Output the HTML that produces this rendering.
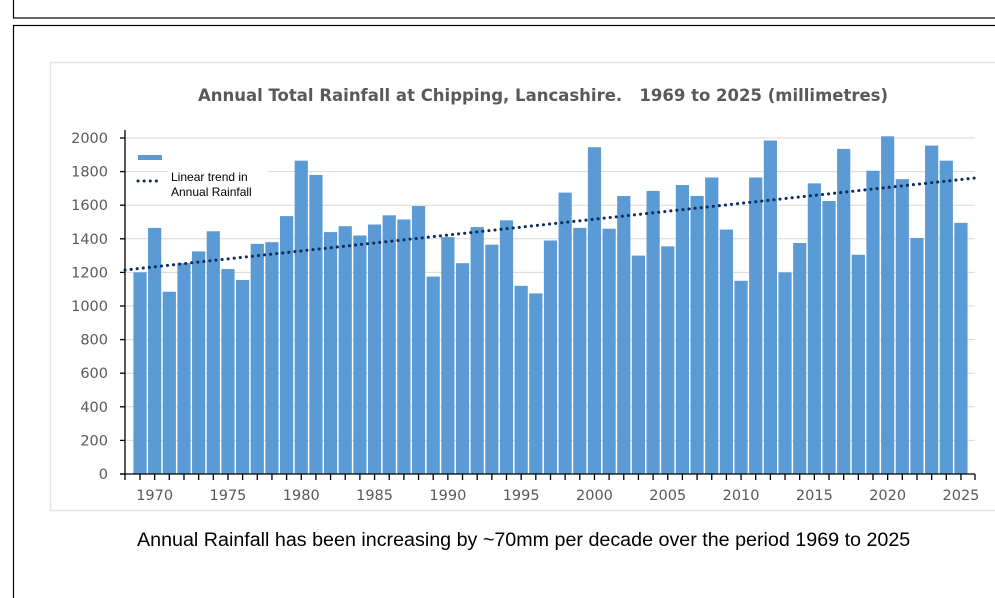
<!DOCTYPE html>
<html><head><style>
body{margin:0;width:995px;height:598px;background:#fff;overflow:hidden;position:relative;font-family:"Liberation Sans",sans-serif}
</style></head><body>
<svg width="995" height="598" style="position:absolute;left:0;top:0">
<rect x="13.5" y="-5" width="1000" height="23" fill="none" stroke="#000" stroke-width="1.2"/>
<rect x="13.5" y="25.5" width="1000" height="600" fill="none" stroke="#000" stroke-width="1.2"/>
<rect x="50.5" y="62.5" width="1000" height="448" fill="#fff" stroke="#e4e4e4" stroke-width="1.5"/>
<text x="543" y="101" text-anchor="middle" font-family="DejaVu Sans,sans-serif" font-size="16.5" font-weight="bold" fill="#595959" style="white-space:pre" xml:space="preserve">Annual Total Rainfall at Chipping, Lancashire.   1969 to 2025 (millimetres)</text>
<g id="grid" stroke="#d9d9d9" stroke-width="1"></g>
<g id="ylab" font-family="DejaVu Sans,sans-serif" font-size="14.5" fill="#595959" text-anchor="end"></g>
<g id="bars" fill="#5b9bd5"></g>
<g id="axes" stroke="#000" stroke-width="1.3"></g>
<g id="xlab" font-family="DejaVu Sans,sans-serif" font-size="14.5" fill="#595959" text-anchor="middle"></g>
<line x1="125" y1="270" x2="975" y2="178" stroke="#0e2a5a" stroke-width="3" stroke-dasharray="0.1 6" stroke-linecap="round"/>
<rect x="138" y="155" width="24" height="5" fill="#5b9bd5"/>
<line x1="138" y1="181" x2="160" y2="181" stroke="#0e2a5a" stroke-width="3" stroke-dasharray="0.1 6" stroke-linecap="round"/>
<rect x="168" y="168" width="100" height="30" fill="#fff"/>
<text x="171" y="181" font-size="12" fill="#000">Linear trend in</text>
<text x="171" y="196" font-size="12" fill="#000">Annual Rainfall</text>
<text x="137" y="546" font-size="19.7" fill="#000">Annual Rainfall has been increasing by ~70mm per decade over the period 1969 to 2025</text>
</svg>
<script>
var d=[1200,1465,1085,1255,1325,1445,1220,1155,1370,1380,1535,1865,1780,1440,1475,1420,1485,1540,1515,1595,1175,1410,1255,1470,1365,1510,1120,1075,1390,1675,1465,1945,1460,1655,1300,1685,1355,1720,1655,1765,1455,1150,1765,1985,1200,1375,1730,1625,1935,1305,1805,2010,1755,1405,1955,1865,1495];
var ns="http://www.w3.org/2000/svg";
function el(g,t,a,txt){var e=document.createElementNS(ns,t);for(var k in a)e.setAttribute(k,a[k]);if(txt)e.textContent=txt;document.getElementById(g).appendChild(e);}
var Y=function(v){return 474-v*0.168};
for(var v=200;v<=2000;v+=200)el("grid","line",{x1:125,x2:975,y1:Y(v),y2:Y(v)});
for(var v=0;v<=2000;v+=200)el("ylab","text",{x:108,y:Y(v)+5},String(v));
var X=function(y){return 140+(y-1969)*14.66};
d.forEach(function(v,i){el("bars","rect",{x:X(1969+i)-6.6,y:Y(v),width:13.2,height:v*0.168});});
el("axes","line",{x1:125,x2:125,y1:130,y2:474});
el("axes","line",{x1:120,x2:975,y1:474,y2:474});
for(var v=0;v<=2000;v+=200)el("axes","line",{x1:120,x2:125,y1:Y(v),y2:Y(v)});
el("axes","line",{x1:125,x2:125,y1:474,y2:480});
el("axes","line",{x1:975,x2:975,y1:474,y2:480});
for(var y=1969;y<=2025;y++)el("axes","line",{x1:X(y),x2:X(y),y1:474,y2:480});
for(var y=1970;y<=2025;y+=5)el("xlab","text",{x:X(y),y:500},String(y));
</script>
</body></html>
